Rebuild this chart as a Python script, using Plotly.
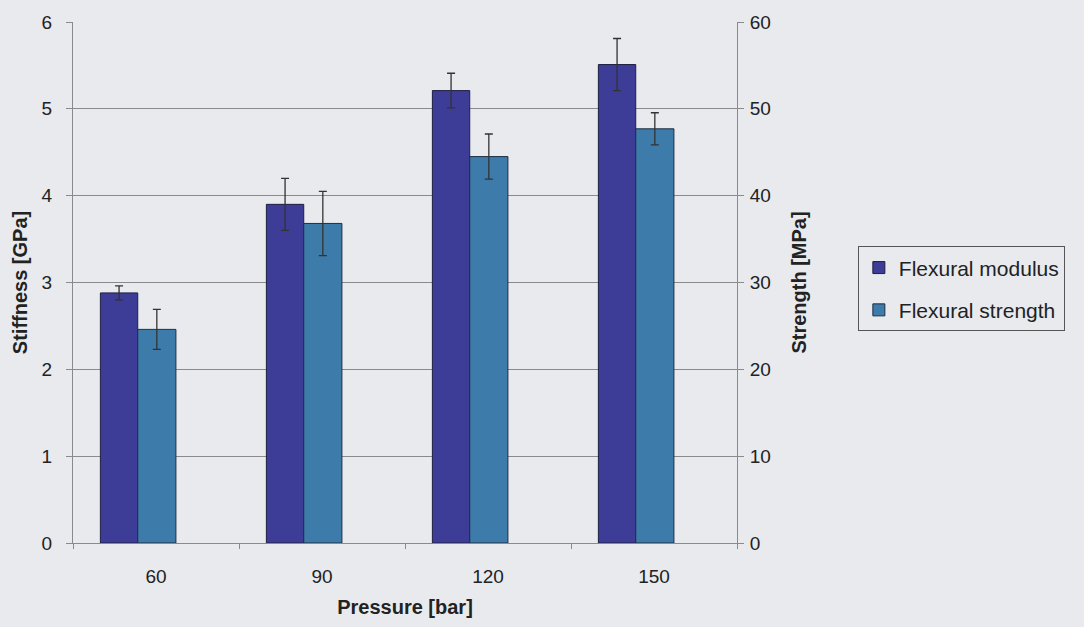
import plotly.graph_objects as go

pressure = ["60", "90", "120", "150"]
modulus = [2.88, 3.90, 5.21, 5.51]
modulus_err = [0.08, 0.30, 0.20, 0.30]
strength = [24.6, 36.8, 44.5, 47.7]
strength_err = [2.3, 3.7, 2.6, 1.85]

FONT = "Liberation Sans, Arial, sans-serif"
TXT = "#222222"
GRID = "#8a8a8a"
BG = "#e8eaee"

fig = go.Figure()
fig.add_trace(go.Bar(
    x=pressure, y=modulus, name="Flexural modulus",
    width=0.225, offset=-0.335,
    marker=dict(color="#3d3d97", line=dict(color="#1e1e40", width=1)),
    error_y=dict(type="data", array=modulus_err, color="#333333", thickness=1.3, width=4),
    legendgroup="a", yaxis="y",
))
fig.add_trace(go.Bar(
    x=pressure, y=strength, name="Flexural strength",
    width=0.23, offset=-0.11,
    marker=dict(color="#3d7bab", line=dict(color="#1e2e40", width=1)),
    error_y=dict(type="data", array=strength_err, color="#333333", thickness=1.3, width=4),
    legendgroup="b", yaxis="y2",
))

fig.update_layout(
    width=1084, height=627,
    paper_bgcolor=BG, plot_bgcolor=BG,
    margin=dict(l=73, r=347, t=18, b=82),
    font=dict(family=FONT, size=18, color=TXT),
    barmode="overlay",
    xaxis=dict(
        type="category", tickson="boundaries", ticks="outside", ticklen=5,
        tickcolor=GRID, showline=True, linecolor=GRID, linewidth=1,
        showgrid=False, tickfont=dict(size=19), ticklabelstandoff=16,
        title=dict(text="<b>Pressure [bar]</b>", font=dict(size=20), standoff=14),
    ),
    yaxis=dict(
        range=[0, 6], dtick=1, ticks="outside", ticklen=6, tickcolor=GRID,
        showline=True, linecolor=GRID, linewidth=1,
        showgrid=True, gridcolor=GRID, gridwidth=1, zeroline=False,
        tickfont=dict(size=19), ticklabelstandoff=10,
        title=dict(text="<b>Stiffness [GPa]</b>", font=dict(size=20), standoff=8),
    ),
    yaxis2=dict(
        range=[0, 60], dtick=10, overlaying="y", side="right",
        ticks="outside", ticklen=6, tickcolor=GRID,
        showline=True, linecolor=GRID, linewidth=1,
        showgrid=False, zeroline=False, tickfont=dict(size=19),
        ticklabelstandoff=2,
        title=dict(text="<b>Strength [MPa]</b>", font=dict(size=20), standoff=22),
    ),
    legend=dict(
        x=1.182, y=(545 - 245) / 527, xanchor="left", yanchor="top",
        bgcolor=BG, bordercolor="#555555", borderwidth=1,
        font=dict(size=21), traceorder="grouped", tracegroupgap=12,
    ),
    showlegend=True,
)

fig.write_html("out.html", config={"displayModeBar": False},
               post_script="document.body.style.margin='0';")
